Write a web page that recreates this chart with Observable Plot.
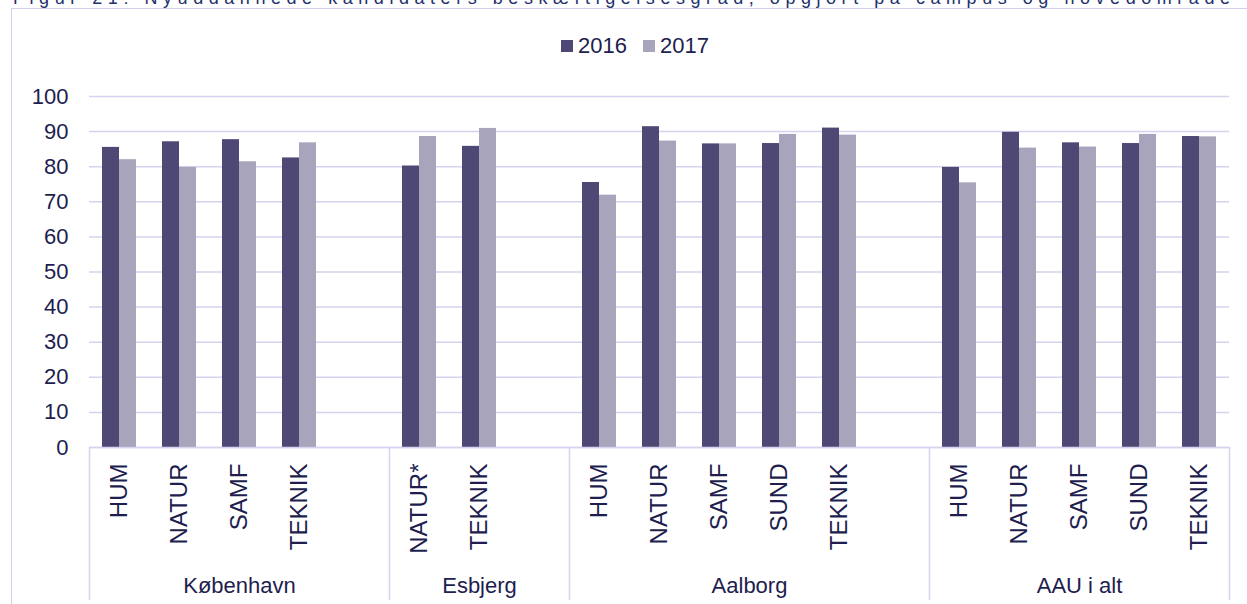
<!DOCTYPE html>
<html><head><meta charset="utf-8">
<script src="https://cdn.jsdelivr.net/npm/d3@7"></script>
<script src="https://cdn.jsdelivr.net/npm/@observablehq/plot@0.6"></script>
<style>
html,body{margin:0;padding:0;background:#fff;overflow:hidden;width:1247px;height:604px;}
#wrap{position:relative;width:1247px;height:604px;overflow:hidden;font-family:"Liberation Sans",Arial,sans-serif;}
#frame{position:absolute;left:11px;top:8px;width:1400px;height:800px;border:1.5px solid #d2cfec;box-sizing:border-box;}
#title{position:absolute;left:13px;top:-11px;font-size:18px;line-height:18px;white-space:nowrap;color:#22306b;}
#chart{position:absolute;left:0;top:0;}
#legend{position:absolute;left:561px;top:34px;display:flex;align-items:center;font-size:22px;line-height:24px;color:#211d4e;}
#legend .sw{width:12px;height:12px;margin-right:5px;}
#legend .it{display:flex;align-items:center;margin-right:16px;}
</style></head>
<body><div id="wrap">
<div id="frame"></div>
<div id="title"><span id="tspan">Figur 21: Nyuddannede kandidaters beskæftigelsesgrad, opgjort på campus og hovedområde</span></div>
<div id="chart"></div>
<div id="legend"></div>
</div>
<script>
const campuses = ["København", "Esbjerg", "Aalborg", "AAU i alt"];
const areasByCampus = [
  ["HUM", "NATUR", "SAMF", "TEKNIK"],
  ["NATUR*", "TEKNIK"],
  ["HUM", "NATUR", "SAMF", "SUND", "TEKNIK"],
  ["HUM", "NATUR", "SAMF", "SUND", "TEKNIK"]
];
const years = ["2016", "2017"];
const values2016 = [85.5, 87.1, 87.7, 82.5, 80.2, 85.8, 75.5, 91.4, 86.5, 86.6, 91.0, 79.8, 89.8, 86.8, 86.6, 88.6];
const values2017 = [82.0, 79.8, 81.4, 86.8, 88.6, 90.9, 71.9, 87.3, 86.5, 89.2, 89.0, 75.4, 85.3, 85.6, 89.2, 88.5];
const yTicks = d3.range(0, 101, 10);
const colors = ["#4e4875", "#a8a4bc"];
const textColor = "#211d4e";
const lineColor = "#d6d2ef";

// build slot layout (one empty slot between campus groups)
const cats = [];
const groups = [];
const boundaries = [];
let slot = 0, k = 0;
campuses.forEach((c, gi) => {
  const start = slot;
  boundaries.push(start);
  areasByCampus[gi].forEach(a => {
    cats.push({campus: c, area: a, slot, v2016: values2016[k], v2017: values2017[k]});
    slot++; k++;
  });
  if (gi < campuses.length - 1) slot++;
  groups.push({name: c, center: (start + slot) / 2});
});
const nSlots = slot;
boundaries.push(nSlots);

const barW = 17 / 60;
const rows = cats.flatMap(d => years.map((y, i) => ({
  year: y, value: i === 0 ? d.v2016 : d.v2017,
  x1: d.slot + 0.5 + (i - 1) * barW, x2: d.slot + 0.5 + i * barW
})));

const chart = Plot.plot({
  width: 1247, height: 604,
  marginLeft: 89, marginRight: 18, marginTop: 96, marginBottom: 157,
  x: {domain: [0, nSlots], axis: null},
  y: {domain: [0, 100], axis: null},
  color: {domain: years, range: colors},
  style: {background: "none", fontFamily: "'Liberation Sans', Arial, sans-serif", overflow: "visible"},
  marks: [
    Plot.gridY(yTicks, {stroke: lineColor, strokeOpacity: 1, strokeWidth: 1.5}),
    Plot.axisY(yTicks, {tickSize: 0, tickPadding: 21, fontSize: 22, fill: textColor, label: null}),
    Plot.rectY(rows, {x1: "x1", x2: "x2", y: "value", fill: "year"}),
    Plot.ruleY([0], {stroke: lineColor, strokeWidth: 1.5}),
    Plot.axisX(boundaries, {tickSize: 153, tickFormat: () => "", stroke: lineColor, strokeWidth: 1.5, label: null}),
    Plot.text(cats, {x: d => d.slot + 0.5, y: () => 0, text: "area", rotate: -90, textAnchor: "end", dy: 16, fontSize: 24, fill: textColor}),
    Plot.text(groups, {x: "center", y: () => 0, text: "name", dy: 138, fontSize: 22, fill: textColor})
  ]
});
document.getElementById("chart").appendChild(chart);

const legend = document.getElementById("legend");
years.forEach((y, i) => {
  const it = document.createElement("div"); it.className = "it";
  const sw = document.createElement("div"); sw.className = "sw"; sw.style.background = colors[i];
  const tx = document.createElement("span"); tx.textContent = y;
  it.appendChild(sw); it.appendChild(tx); legend.appendChild(it);
});

// spread title letters to span the frame width
const ts = document.getElementById("tspan");
const n = ts.textContent.length;
const w0 = ts.getBoundingClientRect().width;
ts.style.letterSpacing = ((1217 - w0) / (n - 1)) + "px";
</script>
</body></html>
